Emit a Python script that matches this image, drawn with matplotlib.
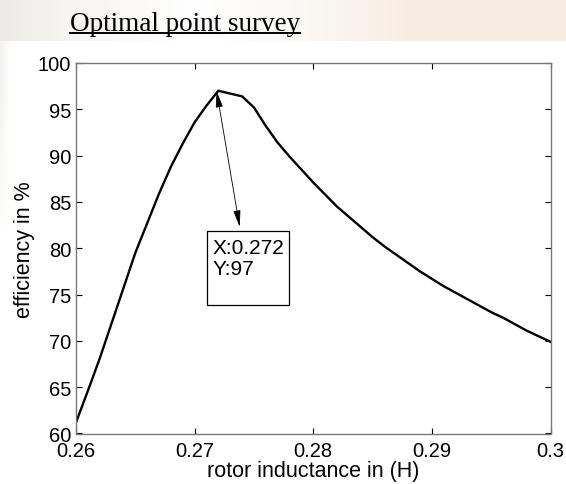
import numpy as np
import matplotlib
matplotlib.use('Agg')
import matplotlib.pyplot as plt
from matplotlib.lines import Line2D
from matplotlib.patches import Rectangle

# rotor inductance (H) and efficiency (%)
inductance = [0.260, 0.261, 0.262, 0.263, 0.264, 0.265, 0.266, 0.267, 0.268, 0.269,
              0.270, 0.271, 0.272, 0.274, 0.275, 0.276, 0.277, 0.278, 0.279, 0.280,
              0.281, 0.282, 0.283, 0.284, 0.285, 0.286, 0.287, 0.288, 0.289, 0.290,
              0.291, 0.292, 0.293, 0.294, 0.295, 0.296, 0.297, 0.298, 0.299, 0.300]
efficiency = [61.2, 64.6, 68.1, 71.9, 75.7, 79.5, 82.7, 85.9, 88.8, 91.3,
              93.6, 95.4, 97.0, 96.4, 95.2, 93.2, 91.4, 89.9, 88.5, 87.1,
              85.8, 84.5, 83.4, 82.3, 81.2, 80.2, 79.3, 78.4, 77.5, 76.7,
              75.9, 75.2, 74.5, 73.8, 73.1, 72.5, 71.8, 71.1, 70.5, 69.9]

peak_x, peak_y = 0.272, 97
xticks = [0.26, 0.27, 0.28, 0.29, 0.3]
xticklabels = ['0.26', '0.27', '0.28', '0.29', '0.3']
yticks = [60, 65, 70, 75, 80, 85, 90, 95, 100]

plt.rcParams['font.family'] = ['Liberation Sans', 'DejaVu Sans']
plt.rcParams['font.size'] = 14.5

W, H = 566, 485
fig = plt.figure(figsize=(W / 100, H / 100), dpi=100)

# faded slide background in the top strip and left edge
bg = fig.add_axes([0, 1 - 42 / H, 1, 42 / H], zorder=-5)
t = np.linspace(0, 1, 300)
stops = [0, 0.12, 0.35, 0.6, 0.75, 1]
r = np.interp(t, stops, [0.93, 0.97, 1.0, 0.98, 0.97, 0.97])
g = np.interp(t, stops, [0.92, 0.96, 1.0, 0.96, 0.92, 0.92])
b = np.interp(t, stops, [0.91, 0.95, 1.0, 0.94, 0.88, 0.88])
img = np.dstack([r, g, b]).repeat(10, axis=0)
bg.imshow(img, aspect='auto', extent=[0, 1, 0, 1])
bg.axis('off')

side = fig.add_axes([0, 1 - 235 / H, 10 / W, 193 / H], zorder=-5)
sx = np.linspace(0.955, 1.0, 10)
sy = np.linspace(0.0, 1.0, 40)[:, None]
shade = sx[None, :] + (1 - sx[None, :]) * sy ** 2
side_img = np.dstack([shade, shade * 0.997, shade * 0.993])
side.imshow(side_img, aspect='auto', extent=[0, 1, 0, 1], vmin=0, vmax=1)
side.axis('off')

ax = fig.add_axes([76 / W, 1 - 434.5 / H, (550.5 - 76) / W, (434.5 - 64) / H])
ax.plot(inductance, efficiency, color='black', linewidth=1.7)

ax.set_xlim(0.26, 0.3)
ax.set_ylim(60, 100)
ax.set_xticks(xticks)
ax.set_xticklabels(xticklabels)
ax.set_yticks(yticks)
ax.tick_params(direction='in', length=4, width=0.8, top=True, right=True, colors='black',
               labelsize=14.5)
ax.tick_params(axis='x', pad=5.5)
ax.tick_params(axis='y', pad=3.5)
for s in ax.spines.values():
    s.set_color('#777777')
    s.set_linewidth(1.0)

ax.set_xlabel('rotor inductance in (H)', fontsize=15.5, labelpad=0)
ax.set_ylabel('efficiency in %', fontsize=15.5, labelpad=2)

# data tip box with double arrow to the peak
ax.annotate('', xy=(peak_x - 0.00015, peak_y), xytext=(0.2738, 82.3),
            arrowprops=dict(arrowstyle='<|-|>,head_length=0.7,head_width=0.15',
                            color='black', lw=0.6, shrinkA=0, shrinkB=0))
ax.add_patch(Rectangle((0.27104, 73.85), 0.0069, 8.0, fill=False,
                       edgecolor='black', linewidth=0.9))
ax.text(0.27152, 81.15, 'X:%g\nY:%g' % (peak_x, peak_y), fontsize=15, va='top', ha='left',
        linespacing=1.17)

# underlined slide title
title = fig.text(70 / W, 1 - 31 / H, 'Optimal point survey', family='Liberation Serif',
                 fontsize=19.5, ha='left', va='baseline')
fig.canvas.draw()
bb = title.get_window_extent()
fig.add_artist(Line2D([bb.x0 / W, bb.x1 / W], [1 - 33.5 / H, 1 - 33.5 / H],
                      color='black', linewidth=1.4, transform=fig.transFigure))

fig.savefig('out.png', dpi=100)
